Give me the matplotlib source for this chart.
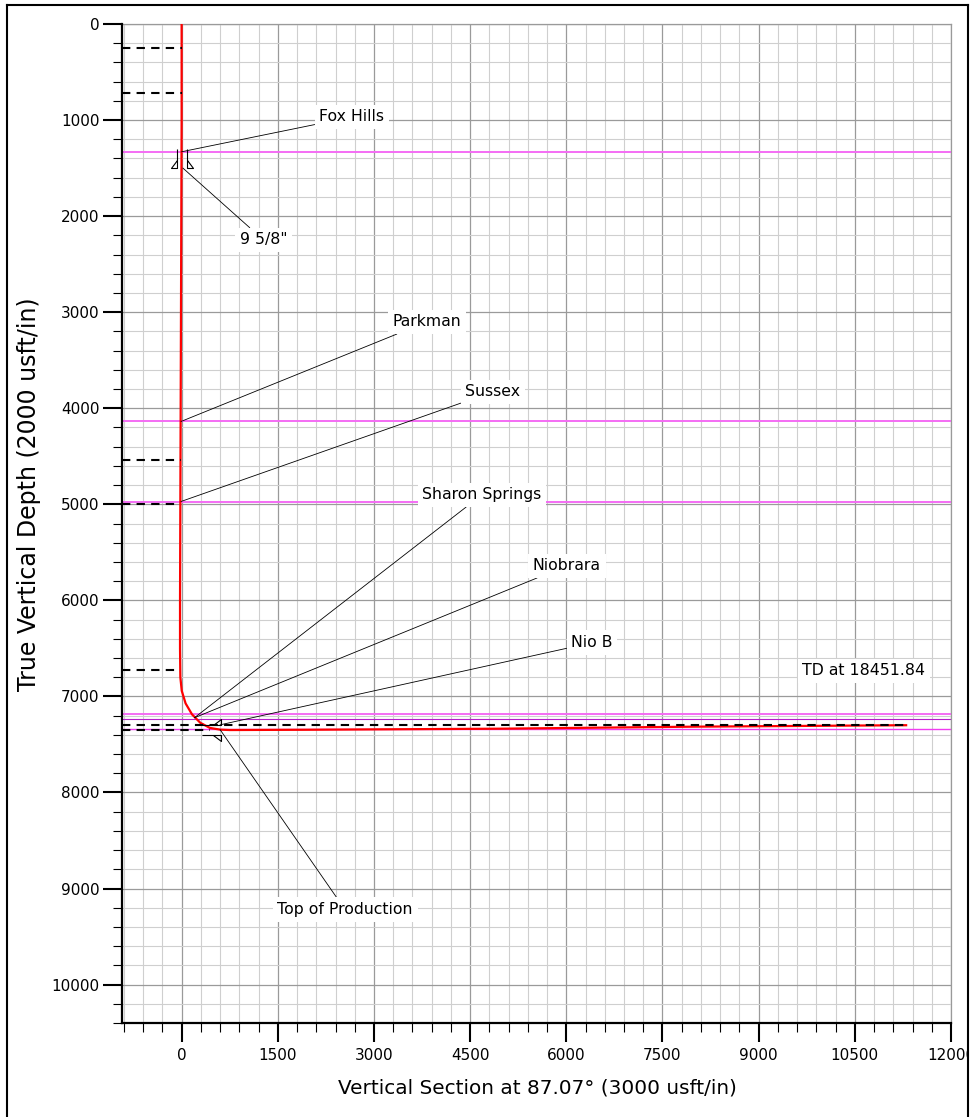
import matplotlib
matplotlib.use('Agg')
import matplotlib.pyplot as plt
from matplotlib.path import Path
from matplotlib.markers import MarkerStyle
from matplotlib.transforms import Affine2D
from matplotlib.ticker import MultipleLocator
from matplotlib.lines import Line2D
from matplotlib.patches import Rectangle

# well path: vertical section (usft) vs true vertical depth (usft)
well_vs = [0, 0, -5, -10, -15, -20, -25, -25, -20, 2, 62, 162, 290, 440, 600,
           750, 2000, 5000, 8000, 11300]
well_tvd = [0, 1000, 2000, 3000, 4000, 5000, 6000, 6500, 6800, 6942, 7073, 7187,
            7274, 7328, 7346, 7350, 7347, 7336, 7315, 7300]

# formation tops (horizontal lines)
top_tvd = [1330, 4138, 4971, 7187, 7235, 7336]

# dashed reference lines: depth and where they stop
dash_tvd = [250, 720, 4540, 4995, 6722, 7350, 7298]
dash_end_vs = [0, 0, -15, -20, -25, 450, 11300]

# casing shoes
casing_vs = [0, 620]
casing_tvd = [1500, 7350]
casing_rot = [0, 90]

# labels with leader lines
label_text = ['Fox Hills', '9 5/8"', 'Parkman', 'Sussex', 'Sharon Springs',
              'Niobrara', 'Nio B', 'Top of Production']
label_vs = [2656, 1276, 3826, 4857, 4684, 6010, 6401, 2549]
label_tvd = [968, 2248, 3101, 3829, 4901, 5640, 6441, 9220]
point_vs = [0, 20, -10, -10, 200, 200, 600, 600]
point_tvd = [1330, 1500, 4138, 4971, 7222, 7222, 7296, 7346]

td_text = 'TD at 18451.84'
td_vs, td_tvd = 10643, 6733

fig = plt.figure(figsize=(9.72, 11.17), dpi=100)
ax = fig.add_axes([122/972, 1-1023/1117, (951-122)/972, (1023-24)/1117])

ax.set_xlim(-930, 12000)
ax.set_ylim(10400, 0)
ax.xaxis.set_major_locator(MultipleLocator(1500))
ax.xaxis.set_minor_locator(MultipleLocator(300))
ax.yaxis.set_major_locator(MultipleLocator(1000))
ax.yaxis.set_minor_locator(MultipleLocator(200))

ax.set_axisbelow(True)
ax.grid(which='minor', color='#cfcfcf', lw=0.8)
ax.grid(which='major', color='#9a9a9a', lw=0.9)
ax.axhline(0, color='#9a9a9a', lw=0.9, clip_on=False, zorder=0.5)
ax.axvline(12000, color='#9a9a9a', lw=0.9, clip_on=False, zorder=0.5)

for s in ['top', 'right']:
    ax.spines[s].set_visible(False)
for s in ['left', 'bottom']:
    ax.spines[s].set_linewidth(1.6)

ax.tick_params(which='major', direction='out', length=13.7, width=1.5,
               labelsize=11, pad=2.5)
ax.tick_params(which='minor', direction='out', length=6.5, width=0.8)
ax.tick_params(axis='x', which='major', pad=4.5)

# formation tops
top_colors = ['#f46cf4', '#f46cf4', '#f46cf4', '#f46cf4', '#b41ec8', '#f03cf0']
top_widths = [1.4, 1.4, 1.4, 1.4, 0.8, 1.0]
for t, c, w in zip(top_tvd, top_colors, top_widths):
    ax.axhline(t, color=c, lw=w, zorder=2)

# dashed lines
for t, e in zip(dash_tvd, dash_end_vs):
    ax.plot([-930, e], [t, t], color='black', lw=1.5, dashes=(4, 3), zorder=5)

# well path
ax.plot(well_vs, well_tvd, color='red', lw=1.6, zorder=4)

# casing shoe symbols
verts = [(-5, 19), (-5, 0), (-11, 0), (-5, 8),
         (5, 19), (5, 0), (11, 0), (5, 8)]
codes = [Path.MOVETO, Path.LINETO, Path.LINETO, Path.LINETO] * 2
shoe = Path(verts, codes)
for x, y, r in zip(casing_vs, casing_tvd, casing_rot):
    ms = MarkerStyle(shoe, fillstyle='none', transform=Affine2D().rotate_deg(r))
    ax.plot([x], [y], ls='none', marker=ms, ms=27.4, mec='black', mew=0.8,
            mfc='none', zorder=6)

# labels
for txt, lx, ly, px, py in zip(label_text, label_vs, label_tvd, point_vs, point_tvd):
    ax.annotate(txt, xy=(px, py), xytext=(lx, ly), ha='center', va='center',
                fontsize=11.3, zorder=7,
                bbox=dict(boxstyle='square,pad=0.3', fc='white', ec='none'),
                arrowprops=dict(arrowstyle='-', color='black', lw=0.6,
                                shrinkA=0, shrinkB=0))
ax.text(td_vs, td_tvd, td_text, ha='center', va='center', fontsize=11.3,
        zorder=7, bbox=dict(boxstyle='square,pad=0.3', fc='white', ec='none'))

fig.text(537/972, 1-1088/1117, 'Vertical Section at 87.07\u00b0 (3000 usft/in)',
         ha='center', va='center', fontsize=14.4)
fig.text(29/972, 1-494/1117, 'True Vertical Depth (2000 usft/in)',
         ha='center', va='center', rotation=90, fontsize=17)

# frame around the page
fig.add_artist(Rectangle((968/972, 0), 4/972, 1, transform=fig.transFigure,
                         color='white', zorder=10))
fig.add_artist(Line2D([7/972, 7/972], [0, 1-5/1117], transform=fig.transFigure,
                      color='black', lw=1.5, zorder=11))
fig.add_artist(Line2D([7/972, 968/972], [1-5/1117, 1-5/1117],
                      transform=fig.transFigure, color='black', lw=1.5, zorder=11))
fig.add_artist(Line2D([968/972, 968/972], [0, 1-5/1117], transform=fig.transFigure,
                      color='black', lw=1.5, zorder=11))

fig.savefig('out.png', dpi=100)
